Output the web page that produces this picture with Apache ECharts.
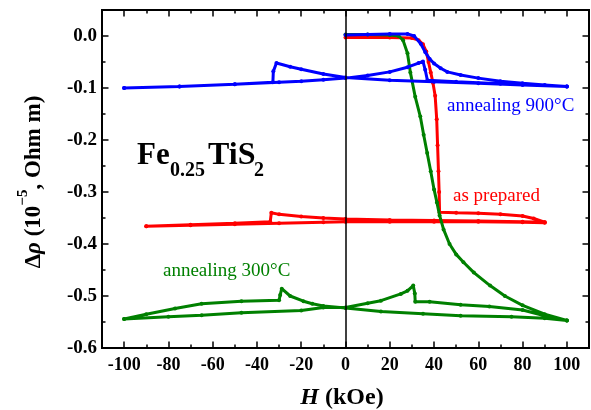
<!DOCTYPE html>
<html>
<head>
<meta charset="utf-8">
<script src="https://cdn.jsdelivr.net/npm/echarts@6.0.0/dist/echarts.min.js"></script>
<style>
  html, body { margin: 0; padding: 0; background: #fff; }
  #main { width: 591px; height: 410px; }
</style>
</head>
<body>
<div id="main"></div>
<script>
// tick values
var xMajor = [-100, -80, -60, -40, -20, 0, 20, 40, 60, 80, 100];
var xMinor = [-90, -70, -50, -30, -10, 10, 30, 50, 70, 90];
var yMajor = [-0.6, -0.5, -0.4, -0.3, -0.2, -0.1, 0];
var yMinor = [-0.55, -0.45, -0.35, -0.25, -0.15, -0.05];

// annealing 900°C (blue): virgin, 100 -> -100, -100 -> 100
var blueVirginH   = [0, 10, 20, 28, 31, 34, 36, 38, 40, 43, 46, 52, 60, 70, 80, 90, 100];
var blueVirginRho = [0.002, 0.003, 0.004, 0.004, 0.0, -0.015, -0.031, -0.044, -0.053, -0.062, -0.069, -0.075, -0.081, -0.087, -0.091, -0.094, -0.097];
var blueDownH   = [100, 80, 60, 40, 20, 0, -10, -20, -25, -31.2, -32.6, -32.8, -50, -75, -100];
var blueDownRho = [-0.097, -0.094, -0.091, -0.088, -0.085, -0.080, -0.073, -0.064, -0.059, -0.052, -0.068, -0.089, -0.093, -0.097, -0.100];
var blueUpH   = [-100, -75, -50, -30, -20, -10, 0, 10, 20, 28, 33, 35, 36, 37, 50, 70, 100];
var blueUpRho = [-0.100, -0.097, -0.093, -0.089, -0.087, -0.084, -0.081, -0.076, -0.069, -0.060, -0.052, -0.049, -0.065, -0.085, -0.088, -0.092, -0.097];

// as prepared (red)
var redVirginH   = [0, 20, 30, 33, 35, 36.5, 37.5, 38.5, 39.5, 40.5, 41.2, 41.6, 42, 42.3, 42.5, 50, 60, 70, 80, 85, 90];
var redVirginRho = [-0.003, -0.003, -0.004, -0.008, -0.016, -0.03, -0.05, -0.07, -0.09, -0.115, -0.16, -0.21, -0.26, -0.30, -0.339, -0.34, -0.341, -0.343, -0.346, -0.351, -0.358];
var redDownH   = [90, 80, 60, 40, 20, 0, -10, -20, -30, -33.5, -34, -50, -70, -90];
var redDownRho = [-0.358, -0.357, -0.356, -0.355, -0.354, -0.352, -0.350, -0.347, -0.343, -0.340, -0.357, -0.360, -0.363, -0.366];
var redUpH   = [-90, -70, -50, -30, -10, 0, 20, 40, 60, 80, 90];
var redUpRho = [-0.366, -0.364, -0.362, -0.360, -0.358, -0.357, -0.357, -0.357, -0.357, -0.358, -0.359];

// annealing 300°C (green)
var greenVirginH   = [0, 10, 20, 24, 26, 28, 29.3, 31.5, 33.8, 35.3, 36.9, 38.5, 40, 41.3, 42.5, 44.3, 47, 50, 53.3, 58, 65.3, 72, 80, 90, 100];
var greenVirginRho = [0.003, 0.003, 0.002, 0.0, -0.008, -0.033, -0.07, -0.117, -0.155, -0.19, -0.225, -0.26, -0.295, -0.32, -0.345, -0.372, -0.40, -0.42, -0.435, -0.455, -0.48, -0.50, -0.518, -0.535, -0.547];
var greenDownH   = [100, 90, 75, 52, 35, 16, 0, -10, -15, -19, -25, -28.8, -29.5, -30, -47, -65, -77, -90, -100];
var greenDownRho = [-0.547, -0.543, -0.540, -0.538, -0.534, -0.530, -0.523, -0.519, -0.515, -0.510, -0.500, -0.486, -0.498, -0.508, -0.510, -0.515, -0.524, -0.535, -0.544];
var greenUpH   = [-100, -80, -65, -47, -20, -10, 0, 10, 16, 25, 28, 30.6, 31.3, 31.5, 38, 52, 65, 80, 90, 100];
var greenUpRho = [-0.544, -0.540, -0.537, -0.532, -0.528, -0.522, -0.522, -0.514, -0.509, -0.496, -0.490, -0.480, -0.495, -0.511, -0.511, -0.517, -0.520, -0.527, -0.538, -0.547];

function pairs(hs, rs) {
  var out = [];
  for (var i = 0; i < hs.length; i++) out.push([hs[i], rs[i]]);
  return out;
}
function loop(vh, vr, dh, dr, uh, ur) {
  return pairs(vh, vr).concat(pairs(dh, dr), pairs(uh, ur));
}

var FONT = "'Liberation Serif', 'Times New Roman', serif";
var chart = echarts.init(document.getElementById('main'));

function xAx(pos, ticks, len, labels) {
  return {
    type: 'value', position: pos, min: -110, max: 110,
    axisLine: { show: true, onZero: false, lineStyle: { color: '#000', width: 2 } },
    axisTick: { show: true, inside: true, length: len, customValues: ticks, lineStyle: { color: '#000', width: 1.5 } },
    axisLabel: labels ? {
      show: true, customValues: ticks, margin: 8, color: '#000',
      fontFamily: FONT, fontWeight: 'bold', fontSize: 18
    } : { show: false },
    splitLine: { show: false }
  };
}
function yAx(pos, ticks, len, labels) {
  return {
    type: 'value', position: pos, min: -0.6, max: 0.05,
    axisLine: { show: true, onZero: false, lineStyle: { color: '#000', width: 2 } },
    axisTick: { show: true, inside: true, length: len, customValues: ticks, lineStyle: { color: '#000', width: 1.5 } },
    axisLabel: labels ? {
      show: true, customValues: ticks, margin: 5, color: '#000',
      fontFamily: FONT, fontWeight: 'bold', fontSize: 19,
      formatter: function (v) { return Number(v).toFixed(1); }
    } : { show: false },
    splitLine: { show: false }
  };
}

function lineSeries(name, color, z, data) {
  return {
    name: name, type: 'line', z: z, data: data,
    symbol: 'circle', symbolSize: 4, showSymbol: true,
    itemStyle: { color: color },
    lineStyle: { color: color, width: 3 }
  };
}

var option = {
  backgroundColor: '#fff',
  animation: false,
  grid: { left: 102, right: 2, top: 10, bottom: 62, containLabel: false },
  xAxis: [
    xAx('bottom', xMajor, 6.5, true),
    xAx('bottom', xMinor, 3.5, false),
    xAx('top', xMajor, 6.5, false),
    xAx('top', xMinor, 3.5, false)
  ],
  yAxis: [
    yAx('left', yMajor, 6.5, true),
    yAx('left', yMinor, 3.5, false),
    yAx('right', yMajor, 6.5, false),
    yAx('right', yMinor, 3.5, false)
  ],
  series: [
    {
      type: 'line', data: [], z: 1, silent: true,
      markLine: {
        silent: true, symbol: 'none', animation: false,
        label: { show: false },
        lineStyle: { color: '#000', width: 1.5, type: 'solid' },
        data: [{ xAxis: 0 }]
      }
    },
    lineSeries('as prepared', '#ff0000', 2,
      loop(redVirginH, redVirginRho, redDownH, redDownRho, redUpH, redUpRho)),
    lineSeries('annealing 300°C', '#008000', 3,
      loop(greenVirginH, greenVirginRho, greenDownH, greenDownRho, greenUpH, greenUpRho)),
    lineSeries('annealing 900°C', '#0000ff', 4,
      loop(blueVirginH, blueVirginRho, blueDownH, blueDownRho, blueUpH, blueUpRho))
  ],
  graphic: [
    {
      type: 'text', x: 31, y: 182, rotation: Math.PI / 2,
      style: {
        text: '{n|\u0394}{i|\u03c1}{n| (10}{s|\u22125}{n|, Ohm m)}',
        align: 'center', verticalAlign: 'middle',
        rich: {
          n: { fontFamily: FONT, fontWeight: 'bold', fontSize: 23, fill: '#000', lineHeight: 30, verticalAlign: 'bottom' },
          i: { fontFamily: FONT, fontWeight: 'bold', fontStyle: 'italic', fontSize: 23, fill: '#000', lineHeight: 30, verticalAlign: 'bottom' },
          s: { fontFamily: FONT, fontWeight: 'bold', fontSize: 15, fill: '#000', lineHeight: 16, verticalAlign: 'top' }
        }
      }
    },
    {
      type: 'text', x: 342, y: 398,
      style: {
        text: '{i|H}{n| (kOe)}',
        align: 'center', verticalAlign: 'middle',
        rich: {
          n: { fontFamily: FONT, fontWeight: 'bold', fontSize: 24, fill: '#000' },
          i: { fontFamily: FONT, fontWeight: 'bold', fontStyle: 'italic', fontSize: 24, fill: '#000' }
        }
      }
    },
    // Fe0.25TiS2, main text and subscripts
    { type: 'text', x: 137, y: 156, style: { text: 'Fe', fontFamily: FONT, fontWeight: 'bold', fontSize: 31, fill: '#000', align: 'left', verticalAlign: 'middle' } },
    { type: 'text', x: 170, y: 171, style: { text: '0.25', fontFamily: FONT, fontWeight: 'bold', fontSize: 20, fill: '#000', align: 'left', verticalAlign: 'middle' } },
    { type: 'text', x: 208, y: 156, style: { text: 'TiS', fontFamily: FONT, fontWeight: 'bold', fontSize: 32, fill: '#000', align: 'left', verticalAlign: 'middle' } },
    { type: 'text', x: 254, y: 171, style: { text: '2', fontFamily: FONT, fontWeight: 'bold', fontSize: 20, fill: '#000', align: 'left', verticalAlign: 'middle' } },
    {
      type: 'text', x: 447, y: 106,
      style: { text: 'annealing 900\u00b0C', fontFamily: FONT, fontSize: 19, fill: '#0000ff', align: 'left', verticalAlign: 'middle' }
    },
    {
      type: 'text', x: 453, y: 196,
      style: { text: 'as prepared', fontFamily: FONT, fontSize: 19, fill: '#ff0000', align: 'left', verticalAlign: 'middle' }
    },
    {
      type: 'text', x: 163, y: 271,
      style: { text: 'annealing 300\u00b0C', fontFamily: FONT, fontSize: 19, fill: '#008000', align: 'left', verticalAlign: 'middle' }
    }
  ]
};
chart.setOption(option);
</script>
</body>
</html>
